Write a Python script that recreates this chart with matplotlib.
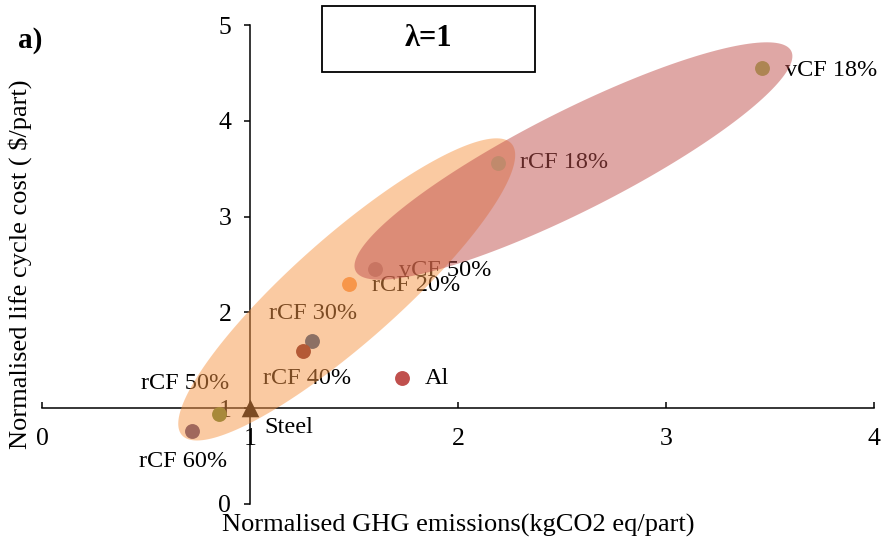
import numpy as np
import matplotlib
matplotlib.use("Agg")
import matplotlib.pyplot as plt
from matplotlib.patches import Polygon, Rectangle

plt.rcParams['font.family'] = ['Liberation Serif', 'DejaVu Serif']

# ---- data ----
labels = ["vCF 18%", "rCF 18%", "vCF 50%", "rCF 20%", "rCF 30%",
          "rCF 40%", "Al", "rCF 50%", "rCF 60%", "Steel"]
ghg = [3.46, 2.19, 1.60, 1.475, 1.30, 1.255, 1.73, 0.85, 0.72, 1.0]
cost = [4.55, 3.56, 2.45, 2.30, 1.70, 1.60, 1.315, 0.94, 0.76, 1.0]
colors = ["#AD8553", "#C08A6C", "#C87562", "#F7964A", "#8C7064",
          "#B45A36", "#C0504D", "#A8893A", "#A0685C", "#7C4B23"]
markers = ["o"] * 9 + ["^"]

x_ticks = [0, 1, 2, 3, 4]
y_ticks = [0, 1, 2, 3, 4, 5]

# label placement (offset pixels, alignment)
label_offsets = [(23, -2, "left"), (22, 0, "left"), (24, -1, "left"),
                 (23, -2, "left"), (1, 28, "center"), (4, -28, "center"),
                 (23, 0, "left"), (10, 30, "right"), (-9, -30, "center"),
                 (14, -19, "left")]

# ---- figure ----
W, H = 882, 546
fig = plt.figure(figsize=(W / 100, H / 100), dpi=100)
ax_l, ax_b, ax_w, ax_h = 42, 42, 832, 479
ax = fig.add_axes([ax_l / W, ax_b / H, ax_w / W, ax_h / H])
ax.set_xlim(0, 4)
ax.set_ylim(0, 5)

for s in ["top", "right"]:
    ax.spines[s].set_visible(False)
ax.spines["left"].set_position(("data", 1))
ax.spines["bottom"].set_position(("data", 1))
for s in ["left", "bottom"]:
    ax.spines[s].set_linewidth(1.1)
    ax.spines[s].set_zorder(1)

ax.set_xticks(x_ticks)
ax.set_yticks(y_ticks)
ax.tick_params(axis="x", direction="in", length=4.5, width=1.1, pad=14, labelsize=18.5)
ax.tick_params(axis="y", direction="out", length=4.5, width=1.1, pad=9, labelsize=18.5)
ax.xaxis.set_zorder(1)
ax.yaxis.set_zorder(1)

ax.set_xlabel("Normalised GHG emissions(kgCO2 eq/part)", fontsize=19)
ax.xaxis.set_label_coords(0.5, -0.02)
ax.set_ylabel("Normalised life cycle cost ( $/part)", fontsize=19)
ax.yaxis.set_label_coords(-0.012, 0.5)

# points
for xi, yi, c, m in zip(ghg, cost, colors, markers):
    ax.scatter([xi], [yi], s=115 if m == "o" else 160, color=c, marker=m,
               zorder=4, linewidths=0)

# labels
for lab, xi, yi, (dx, dy, ha) in zip(labels, ghg, cost, label_offsets):
    ax.annotate(lab, (xi, yi), xytext=(dx, dy), textcoords="offset pixels",
                ha=ha, va="center", fontsize=17.5, color="black", zorder=2)

# ellipses (defined in pixel space to keep shape independent of axis scale)
sx, sy = ax_w / 4.0, ax_h / 5.0


def ellipse(cx, cy, major, minor, angle, color):
    t = np.linspace(0, 2 * np.pi, 200)
    a, b = major / 2, minor / 2
    th = np.deg2rad(angle)
    u = a * np.cos(t)
    v = b * np.sin(t)
    px = u * np.cos(th) - v * np.sin(th)
    py = u * np.sin(th) + v * np.cos(th)
    pts = np.column_stack([cx + px / sx, cy + py / sy])
    ax.add_patch(Polygon(pts, closed=True, facecolor=color, edgecolor="none",
                         alpha=0.5, zorder=3))


ellipse(1.465, 2.24, 440, 106, 41.5, "#F79646")
ellipse(2.555, 3.58, 488, 100, 26.8, "#C0504D")

# panel letter and lambda box
fig.text(18 / W, 1 - 40 / H, "a)", fontsize=21, fontweight="bold",
         ha="left", va="center")
fig.patches.append(Rectangle((322 / W, 1 - 72 / H), 213 / W, 66 / H,
                             transform=fig.transFigure, fill=False,
                             edgecolor="black", linewidth=1.3))
fig.text(428 / W, 1 - 38 / H, "λ=1", fontsize=22, fontweight="bold",
         ha="center", va="center")

fig.savefig("out.png", dpi=100)
